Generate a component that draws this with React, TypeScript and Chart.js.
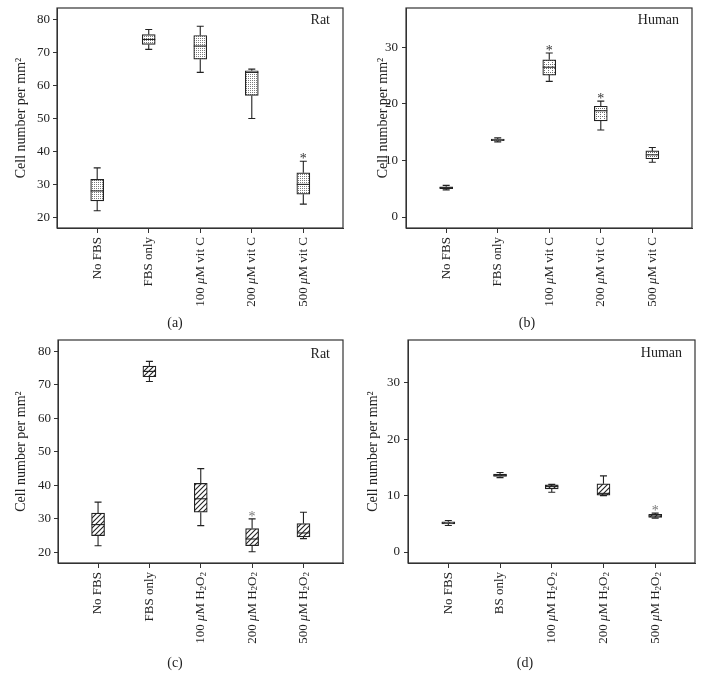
import React, { useEffect, useRef } from "react";
import { Chart, registerables } from "chart.js";
Chart.register(...registerables);

// ---------- data ----------
const vitCLabels = ["No FBS", "FBS only", "100 μM vit C", "200 μM vit C", "500 μM vit C"];
const ratH2O2Labels = ["No FBS", "FBS only", "100 μM H₂O₂", "200 μM H₂O₂", "500 μM H₂O₂"];
const humanH2O2Labels = ["No FBS", "BS only", "100 μM H₂O₂", "200 μM H₂O₂", "500 μM H₂O₂"];

// each entry: [min, q1, median, q3, max]
const ratVitC = [
  [22, 25, 28, 31.5, 35],
  [71, 72.5, 74, 75.5, 77],
  [64, 68, 72, 75.2, 78],
  [50, 57, 64, 64.5, 65],
  [24, 27, 30, 33.5, 37],
];
const humanVitC = [
  [4.8, 5.0, 5.2, 5.35, 5.6],
  [13.3, 13.5, 13.65, 13.8, 14.0],
  [24, 25.1, 26.5, 27.8, 29],
  [15.4, 17, 18.8, 19.6, 20.5],
  [9.7, 10.3, 11, 11.7, 12.3],
];
const ratH2O2 = [
  [22, 25, 28.3, 31.7, 35],
  [71, 72.4, 74, 75.6, 77],
  [28, 32, 36, 40.6, 45],
  [20.2, 22, 24, 27.1, 30],
  [24.1, 24.6, 25.8, 28.6, 32],
];
const humanH2O2 = [
  [4.7, 5.0, 5.15, 5.35, 5.6],
  [13.2, 13.4, 13.6, 13.8, 14.1],
  [10.6, 11.2, 11.6, 11.9, 12.0],
  [10.0, 10.1, 10.4, 12.1, 13.5],
  [6.0, 6.15, 6.4, 6.7, 6.9],
];

const ratVitCSig = [false, false, false, false, true];
const humanVitCSig = [false, false, true, true, false];
const ratH2O2Sig = [false, false, false, true, false];
const humanH2O2Sig = [false, false, false, false, true];

const yTitle = "Cell number per mm²";

// ---------- layout / style ----------
const FONT = "'Liberation Serif', 'DejaVu Serif', serif";
const INK = "#222";

const panels = [
  { id: "a", left: 0, top: 0, w: 352, h: 330, labels: vitCLabels, data: ratVitC, sig: ratVitCSig,
    yMin: 16.75, yMax: 83.55, species: "Rat", caption: "(a)", pattern: "dots",
    pad: { top: 8, right: 9, bottom: 97 }, yWidth: 57, titlePad: 13, tickPad: 3, speciesDy: 12, capX: 175, capY: 323 },
  { id: "b", left: 352, top: 0, w: 351, h: 330, labels: vitCLabels, data: humanVitC, sig: humanVitCSig,
    yMin: -1.94, yMax: 36.97, species: "Human", caption: "(b)", pattern: "grid",
    pad: { top: 8, right: 11, bottom: 97 }, yWidth: 54, titlePad: 23, tickPad: 4, speciesDy: 12, capX: 175, capY: 323 },
  { id: "c", left: 0, top: 330, w: 352, h: 359, labels: ratH2O2Labels, data: ratH2O2, sig: ratH2O2Sig,
    yMin: 16.84, yMax: 83.37, species: "Rat", caption: "(c)", pattern: "hatch",
    pad: { top: 10, right: 9, bottom: 121 }, yWidth: 58, titlePad: 13, tickPad: 3, speciesDy: 14, capX: 175, capY: 333 },
  { id: "d", left: 352, top: 330, w: 351, h: 359, labels: humanH2O2Labels, data: humanH2O2, sig: humanH2O2Sig,
    yMin: -1.95, yMax: 37.6, species: "Human", caption: "(d)", pattern: "hatch",
    pad: { top: 10, right: 8, bottom: 121 }, yWidth: 56, titlePad: 13, tickPad: 4, speciesDy: 13, capX: 173, capY: 333 },
];

function makePattern(kind: string, ctx: CanvasRenderingContext2D) {
  const c = document.createElement("canvas");
  const g = c.getContext("2d")!;
  if (kind === "dots") {
    c.width = 2; c.height = 2;
    g.fillStyle = "#fff"; g.fillRect(0, 0, 2, 2);
    g.fillStyle = "#7a7a7a"; g.fillRect(0, 0, 1, 1);
  } else if (kind === "grid") {
    c.width = 4; c.height = 4;
    g.fillStyle = "#fff"; g.fillRect(0, 0, 4, 4);
    g.fillStyle = "#6a6a6a";
    g.fillRect(0, 0, 1, 1); g.fillRect(2, 0, 1, 1); g.fillRect(0, 2, 1, 1);
  } else {
    c.width = 5; c.height = 5;
    g.fillStyle = "#fff"; g.fillRect(0, 0, 5, 5);
    g.strokeStyle = "#222"; g.lineWidth = 1.1;
    g.beginPath();
    g.moveTo(-1, 6); g.lineTo(6, -1);
    g.moveTo(-1, 1); g.lineTo(1, -1);
    g.moveTo(4, 6); g.lineTo(6, 4);
    g.stroke();
  }
  return ctx.createPattern(c, "repeat");
}

function drawLabel(ctx: CanvasRenderingContext2D, text: string, x: number, y: number) {
  const size = 13;
  const segs: { t: string; style: string; dy: number }[] = [];
  for (const ch of Array.from(text)) {
    if (ch === "μ") segs.push({ t: ch, style: `italic ${size}px ${FONT}`, dy: 0 });
    else if (ch === "₂") segs.push({ t: "2", style: `${Math.round(size * 0.68)}px ${FONT}`, dy: 3 });
    else segs.push({ t: ch, style: `${size}px ${FONT}`, dy: 0 });
  }
  let total = 0;
  for (const s of segs) { ctx.font = s.style; total += ctx.measureText(s.t).width; }
  ctx.save();
  ctx.translate(x, y);
  ctx.rotate(-Math.PI / 2);
  ctx.textBaseline = "middle";
  ctx.textAlign = "left";
  ctx.fillStyle = INK;
  let cx = -total;
  for (const s of segs) {
    ctx.font = s.style;
    ctx.fillText(s.t, cx, s.dy);
    cx += ctx.measureText(s.t).width;
  }
  ctx.restore();
}

function makePlugin(p: any) {
  return {
    id: "boxExtras" + p.id,
    beforeDatasetsDraw(chart: any) {
      const { ctx } = chart;
      const xs = chart.scales.x, ys = chart.scales.y;
      ctx.save();
      ctx.strokeStyle = INK;
      ctx.lineWidth = 1.1;
      p.data.forEach((d: number[], i: number) => {
        const x = xs.getPixelForValue(i);
        const yMin = ys.getPixelForValue(d[0]);
        const yQ1 = ys.getPixelForValue(d[1]);
        const yQ3 = ys.getPixelForValue(d[3]);
        const yMax = ys.getPixelForValue(d[4]);
        ctx.beginPath();
        ctx.moveTo(x, yMin); ctx.lineTo(x, yQ1);
        ctx.moveTo(x, yQ3); ctx.lineTo(x, yMax);
        ctx.moveTo(x - 3.5, yMin); ctx.lineTo(x + 3.5, yMin);
        ctx.moveTo(x - 3.5, yMax); ctx.lineTo(x + 3.5, yMax);
        ctx.stroke();
      });
      ctx.restore();
    },
    afterDatasetsDraw(chart: any) {
      const { ctx } = chart;
      const xs = chart.scales.x, ys = chart.scales.y;
      ctx.save();
      ctx.strokeStyle = INK;
      ctx.lineWidth = 1.1;
      p.data.forEach((d: number[], i: number) => {
        const x = xs.getPixelForValue(i);
        const yMed = ys.getPixelForValue(d[2]);
        ctx.beginPath();
        ctx.moveTo(x - 6.5, yMed); ctx.lineTo(x + 6.5, yMed);
        ctx.stroke();
        if (p.sig[i]) {
          const yMax = ys.getPixelForValue(d[4]);
          ctx.font = `14px ${FONT}`;
          ctx.textAlign = "center";
          ctx.textBaseline = "alphabetic";
          ctx.fillStyle = p.id === "a" || p.id === "b" ? "#333" : "#777";
          ctx.fillText("*", x, yMax + 2);
        }
      });
      ctx.restore();
    },
    afterDraw(chart: any) {
      const { ctx, chartArea } = chart;
      const xs = chart.scales.x;
      ctx.save();
      ctx.strokeStyle = "#333";
      ctx.lineWidth = 1.2;
      ctx.strokeRect(chartArea.left, chartArea.top, chartArea.right - chartArea.left, chartArea.bottom - chartArea.top);
      p.labels.forEach((lab: string, i: number) => {
        drawLabel(ctx, lab, xs.getPixelForValue(i), chartArea.bottom + 9);
      });
      ctx.fillStyle = INK;
      ctx.font = `14px ${FONT}`;
      ctx.textAlign = "right";
      ctx.textBaseline = "middle";
      ctx.fillText(p.species, chartArea.right - 13, chartArea.top + p.speciesDy);
      ctx.textAlign = "center";
      ctx.fillText(p.caption, p.capX, p.capY);
      ctx.restore();
    },
  };
}

function Panel({ p }: { p: any }) {
  const ref = useRef<HTMLCanvasElement>(null);
  useEffect(() => {
    const canvas = ref.current!;
    const ctx = canvas.getContext("2d")!;
    const pattern = makePattern(p.pattern, ctx);
    const chart = new Chart(canvas, {
      type: "bar",
      data: {
        datasets: [
          {
            data: p.data.map((d: number[], i: number) => ({ x: i, y: [d[1], d[3]] })),
            backgroundColor: pattern as any,
            borderColor: INK,
            borderWidth: 1.2,
            borderSkipped: false,
            barThickness: 13,
          } as any,
        ],
      },
      options: {
        responsive: false,
        animation: false,
        devicePixelRatio: 1,
        layout: { padding: { left: 0, top: p.pad.top, right: p.pad.right, bottom: p.pad.bottom } },
        plugins: { legend: { display: false }, tooltip: { enabled: false } },
        scales: {
          x: {
            type: "linear",
            offset: false,
            min: -0.78,
            max: 4.77,
            ticks: { display: false, stepSize: 1, includeBounds: false },
            grid: { offset: false, drawOnChartArea: false, drawTicks: true, tickLength: 5, color: "#333", lineWidth: 1 },
            border: { display: true, color: "#333" },
            afterFit: (s: any) => { s.height = 5; s.paddingLeft = 0; s.paddingRight = 0; },
          },
          y: {
            type: "linear",
            min: p.yMin,
            max: p.yMax,
            ticks: { stepSize: 10, includeBounds: false, padding: p.tickPad, color: INK, font: { family: FONT, size: 13 } },
            grid: { drawOnChartArea: false, drawTicks: true, tickLength: 4, color: "#333", lineWidth: 1 },
            border: { display: true, color: "#333" },
            title: { display: true, text: yTitle, color: INK, font: { family: FONT, size: 14 }, padding: { top: p.titlePad, bottom: 0 } },
            afterFit: (s: any) => { s.width = p.yWidth; s.paddingTop = 0; s.paddingBottom = 0; },
          },
        },
      } as any,
      plugins: [makePlugin(p)],
    });
    return () => chart.destroy();
  }, []);
  return (
    <canvas
      ref={ref}
      width={p.w}
      height={p.h}
      style={{ position: "absolute", left: p.left, top: p.top, width: p.w, height: p.h }}
    />
  );
}

export default function App() {
  return (
    <div style={{ position: "absolute", left: 0, top: 0, width: 703, height: 689, background: "#fff" }}>
      {panels.map((p) => (
        <Panel key={p.id} p={p} />
      ))}
    </div>
  );
}
